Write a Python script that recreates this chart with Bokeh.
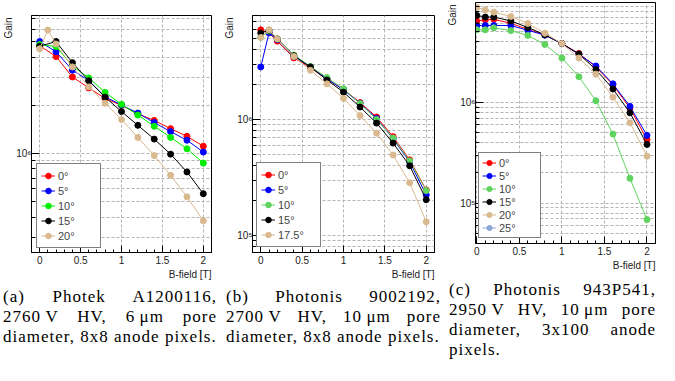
import math
from bokeh.plotting import figure
from bokeh.models import FixedTicker, CustomJSTickFormatter, Title, Div, Range1d
from bokeh.layouts import row, column
from bokeh.embed import file_html
from bokeh.resources import INLINE

# ---------------- data ----------------
angles_a = ["0°", "5°", "10°", "15°", "20°"]
angles_b = ["0°", "5°", "10°", "15°", "17.5°"]
angles_c = ["0°", "5°", "10°", "15°", "20°", "25°"]

field_a = [0, 0.2, 0.4, 0.6, 0.8, 1.0, 1.2, 1.4, 1.6, 1.8, 2.0]
field_a20 = [0, 0.1, 0.2, 0.4, 0.6, 0.8, 1.0, 1.2, 1.4, 1.6, 1.8, 2.0]
gain_a_0 = [4.73e6, 4.04e6, 3.01e6, 2.57e6, 2.21e6, 2.00e6, 1.77e6, 1.61e6, 1.43e6, 1.28e6, 1.11e6]
gain_a_5 = [5.02e6, 4.33e6, 3.32e6, 2.86e6, 2.26e6, 2.01e6, 1.79e6, 1.56e6, 1.37e6, 1.21e6, 1.02e6]
gain_a_10 = [4.80e6, 4.67e6, 3.53e6, 2.97e6, 2.41e6, 2.03e6, 1.74e6, 1.48e6, 1.26e6, 1.07e6, 8.7e5]
gain_a_15 = [4.69e6, 5.02e6, 3.70e6, 2.85e6, 2.25e6, 1.83e6, 1.50e6, 1.23e6, 9.9e5, 7.66e5, 5.6e5]
gain_a_20 = [4.52e6, 5.92e6, 4.84e6, 3.48e6, 2.61e6, 2.06e6, 1.63e6, 1.26e6, 9.7e5, 7.3e5, 5.35e5, 3.79e5]

field_b = [0, 0.1, 0.2, 0.4, 0.6, 0.8, 1.0, 1.2, 1.4, 1.6, 1.8, 2.0]
gain_b_0 = [5.94e6, 5.60e6, 4.74e6, 3.40e6, 2.80e6, 2.22e6, 1.82e6, 1.40e6, 1.05e6, 7.1e5, 4.48e5, 2.46e5]
gain_b_5 = [2.84e6, 5.60e6, 4.90e6, 3.50e6, 2.85e6, 2.25e6, 1.80e6, 1.38e6, 1.02e6, 6.8e5, 4.30e5, 2.23e5]
gain_b_10 = [5.12e6, 5.80e6, 4.95e6, 3.60e6, 2.87e6, 2.30e6, 1.84e6, 1.37e6, 1.00e6, 6.9e5, 4.39e5, 2.43e5]
gain_b_15 = [5.57e6, 5.90e6, 4.96e6, 3.55e6, 2.84e6, 2.19e6, 1.72e6, 1.28e6, 9.3e5, 6.25e5, 3.98e5, 2.03e5]
gain_b_17 = [5.10e6, 5.94e6, 4.96e6, 3.50e6, 2.66e6, 2.03e6, 1.52e6, 1.08e6, 7.6e5, 4.93e5, 2.84e5, 1.31e5]

field_c = [0, 0.1, 0.2, 0.4, 0.6, 0.8, 1.0, 1.2, 1.4, 1.6, 1.8, 2.0]
gain_c_0 = [6.43e6, 6.60e6, 6.67e6, 6.10e6, 5.30e6, 4.69e6, 3.84e6, 3.06e6, 2.25e6, 1.50e6, 8.8e5, 4.29e5]
gain_c_5 = [5.77e6, 5.80e6, 5.80e6, 5.80e6, 5.20e6, 4.65e6, 3.84e6, 3.00e6, 2.30e6, 1.53e6, 9.15e5, 4.72e5]
gain_c_10 = [5.27e6, 5.25e6, 5.50e6, 5.16e6, 4.62e6, 3.76e6, 2.76e6, 1.80e6, 1.04e6, 4.86e5, 1.77e5, 6.9e4]
gain_c_15 = [7.29e6, 7.03e6, 7.03e6, 6.43e6, 5.55e6, 4.69e6, 3.84e6, 3.02e6, 2.12e6, 1.36e6, 7.9e5, 3.84e5]
gain_c_20 = [8.76e6, 8.26e6, 7.85e6, 7.13e6, 6.07e6, 4.86e6, 3.84e6, 2.76e6, 1.91e6, 1.13e6, 6.29e5, 2.93e5]
# the 25° series has no point visible inside the frame of the reference
field_c25 = [0.0]
gain_c_25 = [float("nan")]

x_major = [0, 0.5, 1.0, 1.5, 2.0]
x_minor = [round(0.1 * i, 1) for i in range(-1, 22)]
y_major = [1e4, 1e5, 1e6, 1e7]
y_minor = [k * 10 ** d for d in (4, 5, 6) for k in range(2, 10)]

caption_a = ["(a) Photek A1200116,", "2760\u2009V HV, 6\u2009\u03bcm pore", "diameter, 8x8 anode pixels."]
caption_b = ["(b) Photonis 9002192,", "2700\u2009V HV, 10\u2009\u03bcm pore", "diameter, 8x8 anode pixels."]
caption_c = ["(c) Photonis 943P541,", "2950\u2009V HV, 10\u2009\u03bcm pore", "diameter, 3x100 anode", "pixels."]

# ---------------- styling ----------------
RED, BLUE, BLACK = "#ff0000", "#0000ff", "#000000"
GREEN_A, GREEN = "#00ee00", "#5ed45e"
TAN, LBLUE = "#d9b98e", "#8aa6d8"
FONT = "Liberation Sans"
GRID = "#b4b4b4"

sup = CustomJSTickFormatter(code="""
const e = Math.round(Math.log10(tick));
const s = {"4":"\u2074","5":"\u2075","6":"\u2076","7":"\u2077"};
return "10" + s[String(e)];
""")


def panel(series, xr, yr, w, h, bl, br, bt, bb, leg_loc, leg_h, leg_pad):
    p = figure(width=w, height=h, x_range=Range1d(*xr), y_range=Range1d(*yr),
               y_axis_type="log", output_backend="svg", toolbar_location=None,
               min_border_left=bl, min_border_right=br, min_border_top=bt,
               min_border_bottom=bb, background_fill_color="white",
               border_fill_color="white")
    p.outline_line_color = "black"
    p.outline_line_width = 1
    xt = FixedTicker(ticks=x_major, minor_ticks=x_minor)
    yt = FixedTicker(ticks=y_major, minor_ticks=y_minor)
    p.xaxis.ticker = xt
    p.yaxis.ticker = yt
    p.xgrid.ticker = xt
    p.ygrid.ticker = yt
    p.yaxis.formatter = sup
    for ax in (p.xaxis, p.yaxis):
        ax.axis_line_color = "black"
        ax.major_tick_out = 0
        ax.minor_tick_out = 0
        ax.major_tick_line_color = "black"
        ax.minor_tick_line_color = "black"
        ax.major_label_text_font = FONT
        ax.major_label_text_font_size = "10px"
        ax.major_label_text_color = "#222222"
    p.xaxis.major_tick_in = 7
    p.xaxis.minor_tick_in = 3
    p.yaxis.major_tick_in = 8
    p.yaxis.minor_tick_in = 4
    p.xaxis.major_label_standoff = 3
    p.yaxis.major_label_standoff = 0
    p.xgrid.grid_line_color = GRID
    p.xgrid.grid_line_dash = "3 2"
    p.xgrid.minor_grid_line_color = None
    p.ygrid.grid_line_color = GRID
    p.ygrid.grid_line_dash = "3 2"
    p.ygrid.minor_grid_line_color = GRID
    p.ygrid.minor_grid_line_dash = "3 2"

    for lab, xs, ys, col in series:
        p.line(xs, ys, line_color=col, line_width=1, legend_label=lab)
        p.scatter(xs, ys, size=6, fill_color=col, line_color=col, legend_label=lab)

    lg = p.legend[0]
    lg.location = leg_loc
    lg.margin = 0
    lg.padding = leg_pad
    lg.spacing = 0
    lg.glyph_height = leg_h
    lg.glyph_width = 14
    lg.label_height = leg_h
    lg.label_width = 38
    lg.label_standoff = 3
    lg.label_text_font = FONT
    lg.label_text_font_size = "11px"
    lg.border_line_color = "black"
    lg.border_line_width = 1
    lg.background_fill_alpha = 1

    p.add_layout(Title(text="Gain", align="right", text_font=FONT,
                       text_font_size="10px", text_font_style="normal",
                       text_color="#222222", standoff=0, offset=2), "left")
    p.add_layout(Title(text="B-field [T]", align="right", text_font=FONT,
                       text_font_size="10px", text_font_style="normal",
                       text_color="#222222", standoff=0), "below")
    return p


def caption(lines, w, h, pl, pr, pt):
    parts = []
    for i, ln in enumerate(lines):
        last = "left" if i == len(lines) - 1 else "justify"
        parts.append('<div style="text-align:justify;text-align-last:%s;">%s</div>' % (last, ln))
    html = ('<div style="font-family:\'Liberation Serif\',serif;font-size:17px;'
            'line-height:20px;letter-spacing:1px;color:#000;width:%dpx;'
            'padding:%dpx %dpx 0 %dpx;box-sizing:border-box;">%s</div>'
            % (w, pt, pr, pl, "".join(parts)))
    return Div(text=html, width=w, height=h, margin=0)


pa = panel([(angles_a[0], field_a, gain_a_0, RED),
            (angles_a[1], field_a, gain_a_5, BLUE),
            (angles_a[2], field_a, gain_a_10, GREEN_A),
            (angles_a[3], field_a, gain_a_15, BLACK),
            (angles_a[4], field_a20, gain_a_20, TAN)],
           (-0.1, 2.1), (2.4e5, 7.3e6), 221, 284, 26, 10, 15, 32,
           (5, 4), 15, 4)
pb = panel([(angles_b[0], field_b, gain_b_0, RED),
            (angles_b[1], field_b, gain_b_5, BLUE),
            (angles_b[2], field_b, gain_b_10, GREEN),
            (angles_b[3], field_b, gain_b_15, BLACK),
            (angles_b[4], field_b, gain_b_17, TAN)],
           (-0.1, 2.1), (7.1e4, 7.9e6), 223, 284, 29, 10, 15, 32,
           (4, 5), 15, 4)
pc = panel([(angles_c[0], field_c, gain_c_0, RED),
            (angles_c[1], field_c, gain_c_5, BLUE),
            (angles_c[2], field_c, gain_c_10, GREEN),
            (angles_c[3], field_c, gain_c_15, BLACK),
            (angles_c[4], field_c, gain_c_20, TAN),
            (angles_c[5], field_c25, gain_c_25, LBLUE)],
           (-0.015, 2.1), (4.0e4, 9.8e6), 215, 280, 28, 4, 2, 37,
           (3, 5), 13, 3)

ca = caption(caption_a, 221, 72, 3, 4, 3)
cb = caption(caption_b, 223, 72, 5, 3, 3)
cc = caption(caption_c, 215, 85, 5, 3, 0)

layout = row(column(pa, ca), column(pb, cb), column(pc, cc))

with open("out.html", "w") as f:
    f.write(file_html(layout, INLINE))
